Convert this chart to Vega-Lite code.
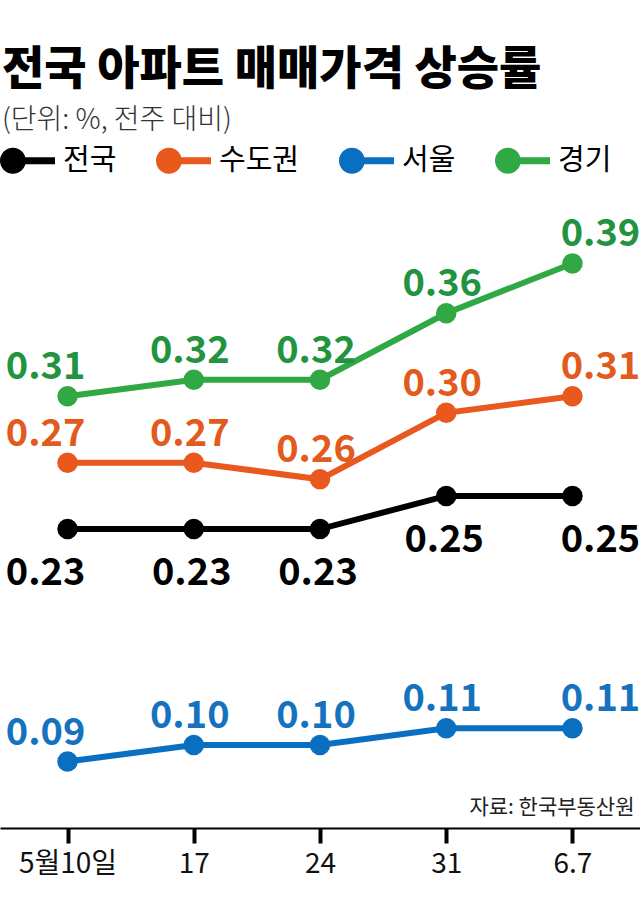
{
  "$schema": "https://vega.github.io/schema/vega-lite/v6.json",
  "width": 640,
  "height": 631,
  "autosize": "none",
  "padding": {"top": 197, "left": 0, "right": 0, "bottom": 90},
  "background": "white",
  "config": {"view": {"stroke": null}, "font": "Noto Sans CJK KR"},
  "title": {
    "text": "전국 아파트 매매가격 상승률",
    "subtitle": "(단위: %, 전주 대비)",
    "anchor": "start",
    "frame": "group",
    "offset": -3,
    "dx": 2,
    "font": "Noto Sans CJK KR",
    "fontSize": 46,
    "fontWeight": 900,
    "color": "#000000",
    "subtitleFont": "Noto Sans CJK KR",
    "subtitleFontSize": 28,
    "subtitleFontWeight": 300,
    "subtitleColor": "#333333",
    "subtitlePadding": 13
  },
  "data": {
    "values": [
      {"date": "5월10일", "region": "전국", "value": 0.23},
      {"date": "17", "region": "전국", "value": 0.23},
      {"date": "24", "region": "전국", "value": 0.23},
      {"date": "31", "region": "전국", "value": 0.25},
      {"date": "6.7", "region": "전국", "value": 0.25},
      {"date": "5월10일", "region": "수도권", "value": 0.27},
      {"date": "17", "region": "수도권", "value": 0.27},
      {"date": "24", "region": "수도권", "value": 0.26},
      {"date": "31", "region": "수도권", "value": 0.30},
      {"date": "6.7", "region": "수도권", "value": 0.31},
      {"date": "5월10일", "region": "서울", "value": 0.09},
      {"date": "17", "region": "서울", "value": 0.10},
      {"date": "24", "region": "서울", "value": 0.10},
      {"date": "31", "region": "서울", "value": 0.11},
      {"date": "6.7", "region": "서울", "value": 0.11},
      {"date": "5월10일", "region": "경기", "value": 0.31},
      {"date": "17", "region": "경기", "value": 0.32},
      {"date": "24", "region": "경기", "value": 0.32},
      {"date": "31", "region": "경기", "value": 0.36},
      {"date": "6.7", "region": "경기", "value": 0.39}
    ]
  },
  "encoding": {
    "x": {
      "field": "date",
      "type": "ordinal",
      "scale": {"type": "point", "domain": ["5월10일", "17", "24", "31", "6.7"], "padding": 0.535},
      "axis": {
        "title": "자료: 한국부동산원",
        "titleAnchor": "end",
        "titleAlign": "right",
        "titleX": 634,
        "titleY": -21,
        "titleBaseline": "middle",
        "titleFontSize": 21,
        "titleFontWeight": "normal",
        "titleColor": "#222222",
        "titleFont": "Noto Sans CJK KR",
        "labelAngle": 0,
        "labelFontSize": 28,
        "labelColor": "#111111",
        "labelFont": "Noto Sans CJK KR",
        "labelPadding": 7,
        "domainColor": "#000000",
        "domainWidth": 2,
        "tickColor": "#000000",
        "tickWidth": 4,
        "tickSize": 15,
        "grid": false
      }
    },
    "y": {
      "field": "value",
      "type": "quantitative",
      "scale": {"domain": [0.05, 0.43], "zero": false, "nice": false},
      "axis": null
    }
  },
  "layer": [
    {
      "mark": {"type": "line", "strokeWidth": 6},
      "encoding": {
        "color": {
          "field": "region",
          "type": "nominal",
          "scale": {"domain": ["전국", "수도권", "서울", "경기"], "range": ["#000000", "#e9581c", "#0b6fc1", "#30a843"]},
          "legend": {
            "title": null,
            "orient": "none",
            "direction": "horizontal",
            "legendX": 0,
            "legendY": -64,
            "symbolType": "M -1 0 A 0.47 0.47 0 1 1 -0.06 0 A 0.47 0.47 0 1 1 -1 0 Z M -0.54 -0.13 L 1 -0.13 L 1 0.13 L -0.54 0.13 Z",
            "symbolSize": 3025,
            "symbolStrokeWidth": 0,
            "symbolOpacity": 1,
            "labelFontSize": 29,
            "labelFont": "Noto Sans CJK KR",
            "labelColor": "#000000",
            "labelOffset": 8,
            "columnPadding": 38,
            "encode": {"symbols": {"update": {"fill": {"scale": "color", "field": "value"}, "fillOpacity": {"value": 1}, "strokeWidth": {"value": 0}}}}
          }
        }
      }
    },
    {
      "mark": {"type": "point", "filled": true, "size": 420, "opacity": 1},
      "encoding": {
        "color": {"field": "region", "type": "nominal"}
      }
    },
    {
      "transform": [{"filter": "datum.region != '전국' && datum.date == '5월10일'"}],
      "mark": {"type": "text", "fontSize": 38, "fontWeight": "bold", "baseline": "alphabetic", "dy": -17, "dx": -22},
      "encoding": {"text": {"field": "value", "type": "quantitative", "format": ".2f"}, "fill": {"field": "region", "type": "nominal", "scale": {"domain": ["전국", "수도권", "서울", "경기"], "range": ["#000000", "#e25a1c", "#1572bf", "#22933e"]}, "legend": null}}
    },
    {
      "transform": [{"filter": "datum.region != '전국' && datum.date != '5월10일' && datum.date != '6.7'"}],
      "mark": {"type": "text", "fontSize": 38, "fontWeight": "bold", "baseline": "alphabetic", "dy": -17, "dx": -4},
      "encoding": {"text": {"field": "value", "type": "quantitative", "format": ".2f"}, "fill": {"field": "region", "type": "nominal", "legend": null}}
    },
    {
      "transform": [{"filter": "datum.region != '전국' && datum.date == '6.7'"}],
      "mark": {"type": "text", "fontSize": 38, "fontWeight": "bold", "baseline": "alphabetic", "dy": -17, "dx": 28},
      "encoding": {"text": {"field": "value", "type": "quantitative", "format": ".2f"}, "fill": {"field": "region", "type": "nominal", "legend": null}}
    },
    {
      "transform": [{"filter": "datum.region == '전국' && datum.date == '5월10일'"}],
      "mark": {"type": "text", "fontSize": 38, "fontWeight": "bold", "baseline": "alphabetic", "dy": 56, "dx": -22, "color": "#000000"},
      "encoding": {"text": {"field": "value", "type": "quantitative", "format": ".2f"}}
    },
    {
      "transform": [{"filter": "datum.region == '전국' && datum.date != '5월10일' && datum.date != '6.7'"}],
      "mark": {"type": "text", "fontSize": 38, "fontWeight": "bold", "baseline": "alphabetic", "dy": 56, "dx": -2, "color": "#000000"},
      "encoding": {"text": {"field": "value", "type": "quantitative", "format": ".2f"}}
    },
    {
      "transform": [{"filter": "datum.region == '전국' && datum.date == '6.7'"}],
      "mark": {"type": "text", "fontSize": 38, "fontWeight": "bold", "baseline": "alphabetic", "dy": 56, "dx": 28, "color": "#000000"},
      "encoding": {"text": {"field": "value", "type": "quantitative", "format": ".2f"}}
    }
  ]
}
